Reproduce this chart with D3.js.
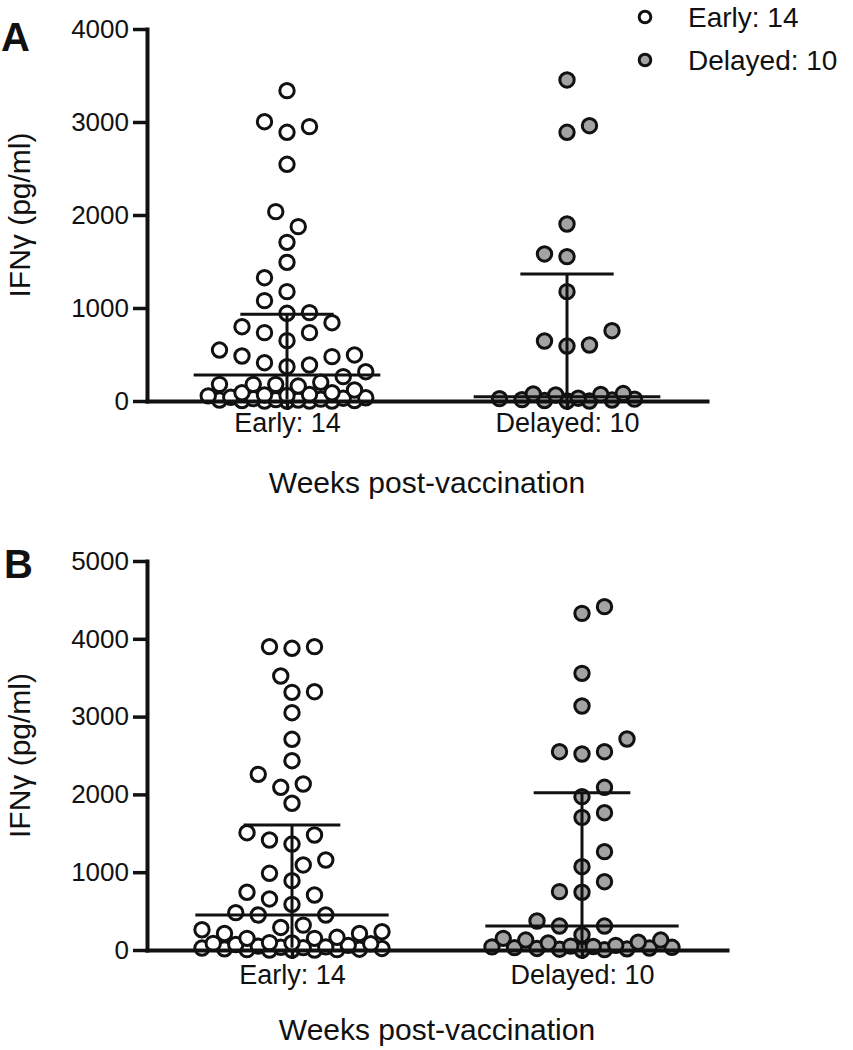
<!DOCTYPE html>
<html><head><meta charset="utf-8">
<script src="https://cdn.jsdelivr.net/npm/d3@7/dist/d3.min.js"></script>
<style>body{margin:0;background:#fff}</style>
</head><body>
<svg id="chart" width="853" height="1050"></svg>
<script>
// ---------- data ----------
const categories = ["Early: 14", "Delayed: 10"];
const seriesNames = ["Early: 14", "Delayed: 10"];
const xTitle = "Weeks post-vaccination";
const yTitle = "IFNγ (pg/ml)";
const yTicksA = [0, 1000, 2000, 3000, 4000];
const yTicksB = [0, 1000, 2000, 3000, 4000, 5000];

const earlyA = [3337, 3003, 2950, 2889, 2545, 2036, 1875, 1706, 1491, 1326, 1176, 1079,
  950, 943, 842, 799, 735, 735, 649, 548, 495, 484, 477, 412, 387, 369, 315,
  262, 201, 179, 179, 179, 161, 118, 89, 89,
  70, 65, 60, 55, 40, 35, 30, 25, 20, 15, 10, 10, 5, 5, 0, 0, 0, 0];
const delayedA = [3452, 2960, 2889, 1903, 1581, 1552, 1176, 756, 645, 602, 591,
  80, 75, 70, 65, 30, 25, 20, 15, 10, 5, 0, 0];
const earlyB = [3899, 3878, 3899, 3522, 3320, 3312, 3050, 2708, 2433, 2258, 2134, 2091, 1886,
  1508, 1478, 1414, 1362, 1157, 1093, 986, 891, 742, 707, 656, 587, 480, 450, 450,
  320, 290, 260, 235, 213, 213, 163, 150, 150,
  95, 90, 85, 80, 70, 60, 50, 40, 35, 30, 25, 20, 15, 10, 5, 5, 0, 0, 0];
const delayedB = [4413, 4327, 3556, 3136, 2712, 2549, 2549, 2519, 2091, 1971, 1765, 1705,
  1264, 1071, 878, 750, 742, 373, 308, 308, 193, 150, 128, 128,
  100, 90, 60, 50, 45, 40, 35, 30, 25, 20, 15, 10, 5, 0];

const medianA = [280, 45];
const q1A = [15, 5];
const q3A = [932, 1366];
const medianB = [450, 308];
const q1B = [30, 20];
const q3B = [1607, 2022];

// ---------- drawing ----------
const svg = d3.select("#chart");
const FONT = "'Liberation Sans', Arial, Helvetica, sans-serif";
const fills = ["#ffffff", "#a3a3a3"];
const STROKE = "#111";

function swarm(values, cx, y, step, maxHalf, dist) {
  const sorted = values.map(v => v).sort((a, b) => a - b);
  const placed = [];
  const half = step / 2;
  const n = Math.floor(maxHalf / half + 1e-6);
  const slots = [0];
  for (let k = 1; k <= n; k++) slots.push(-k * half, k * half);
  let flip = 1;
  sorted.forEach(v => {
    const py = y(v);
    let chosen = null, bestCand = 0, bestScore = -Infinity;
    for (const s0 of slots) {
      const s = s0 * flip;
      let minD = Infinity;
      for (const p of placed) {
        const dd = Math.hypot(p.dx - s, p.y - py);
        if (dd < minD) minD = dd;
      }
      if (minD >= dist) { chosen = s; break; }
      if (minD > bestScore + 0.01) { bestScore = minD; bestCand = s; }
    }
    if (chosen === null) chosen = bestCand;
    placed.push({ v, dx: chosen, y: py });
    flip = -flip;
  });
  return placed.map(p => ({ v: p.v, x: cx + p.dx, y: p.y }));
}

function panel(cfg) {
  const g = svg.append("g");
  const y = d3.scaleLinear().domain([0, cfg.yMax]).range([cfg.bottom, cfg.top]);
  const x = d3.scalePoint().domain(categories).range([cfg.left, cfg.right]).padding(0.5);
  const step = x.step();

  // points
  cfg.series.forEach((vals, si) => {
    const pts = swarm(vals, x(categories[si]), y, 22.5, step * 0.32, 19);
    g.append("g").selectAll("circle").data(pts).join("circle")
      .attr("cx", d => d.x).attr("cy", d => d.y).attr("r", 7.2)
      .attr("fill", fills[si]).attr("stroke", STROKE).attr("stroke-width", 3);
  });

  // median & interquartile range
  const lg = g.append("g").attr("stroke", STROKE).attr("stroke-width", 3);
  categories.forEach((c, i) => {
    const cx = x(c);
    lg.append("line").attr("x1", cx - step / 3).attr("x2", cx + step / 3)
      .attr("y1", y(cfg.median[i])).attr("y2", y(cfg.median[i]));
    lg.append("line").attr("x1", cx - step / 6).attr("x2", cx + step / 6)
      .attr("y1", y(cfg.q3[i])).attr("y2", y(cfg.q3[i]));
    lg.append("line").attr("x1", cx).attr("x2", cx)
      .attr("y1", y(cfg.q1[i])).attr("y2", y(cfg.q3[i]));
  });

  // y axis
  const ya = g.append("g").attr("transform", `translate(${cfg.left},0)`)
    .call(d3.axisLeft(y).tickValues(cfg.yTicks).tickFormat(d3.format("d"))
      .tickSize(14).tickSizeOuter(0).tickPadding(4));
  ya.select(".domain").attr("stroke", STROKE).attr("stroke-width", 4).attr("stroke-linecap", "square");
  ya.selectAll(".tick line").attr("stroke", STROKE).attr("stroke-width", 3.5);
  ya.selectAll(".tick text").attr("fill", "#111").style("font-family", FONT).style("font-size", "26px");

  // x axis
  const xa = g.append("g").attr("transform", `translate(0,${cfg.bottom})`)
    .call(d3.axisBottom(x).tickSize(9).tickSizeOuter(0).tickPadding(0));
  xa.select(".domain").attr("stroke", STROKE).attr("stroke-width", 4).attr("stroke-linecap", "square");
  xa.selectAll(".tick line").attr("stroke", STROKE).attr("stroke-width", 3.5);
  xa.selectAll(".tick text").attr("fill", "#111").attr("y", cfg.catOffset).attr("dy", 0)
    .style("font-family", FONT).style("font-size", "27px");

  // titles
  g.append("text").attr("x", (cfg.left + cfg.right) / 2).attr("y", cfg.titleY)
    .attr("text-anchor", "middle").style("font-family", FONT).style("font-size", "30px")
    .attr("fill", "#111").text(xTitle);
  g.append("text").attr("transform", `translate(30,${(cfg.top + cfg.bottom) / 2}) rotate(-90)`)
    .attr("text-anchor", "middle").style("font-family", FONT).style("font-size", "30px")
    .attr("fill", "#111").text(yTitle);
  g.append("text").attr("x", cfg.letterX).attr("y", cfg.letterY)
    .style("font-family", FONT).style("font-size", "40px").style("font-weight", "bold")
    .attr("fill", "#111").text(cfg.letter);
}

panel({ letter: "A", letterX: 1, letterY: 51, yMax: 4000, yTicks: yTicksA,
  top: 29, bottom: 401, left: 147, right: 707,
  series: [earlyA, delayedA], median: medianA, q1: q1A, q3: q3A,
  catOffset: 31, titleY: 493 });
panel({ letter: "B", letterX: 4, letterY: 578, yMax: 5000, yTicks: yTicksB,
  top: 561, bottom: 950, left: 147, right: 727,
  series: [earlyB, delayedB], median: medianB, q1: q1B, q3: q3B,
  catOffset: 34, titleY: 1040 });

// legend
const leg = svg.append("g");
seriesNames.forEach((s, i) => {
  const yy = 17 + i * 43;
  leg.append("circle").attr("cx", 645).attr("cy", yy).attr("r", 5.8)
    .attr("fill", fills[i]).attr("stroke", STROKE).attr("stroke-width", 3);
  leg.append("text").attr("x", 688).attr("y", yy + 10).style("font-family", FONT)
    .style("font-size", "28px").attr("fill", "#111").text(s);
});
</script>
</body></html>
